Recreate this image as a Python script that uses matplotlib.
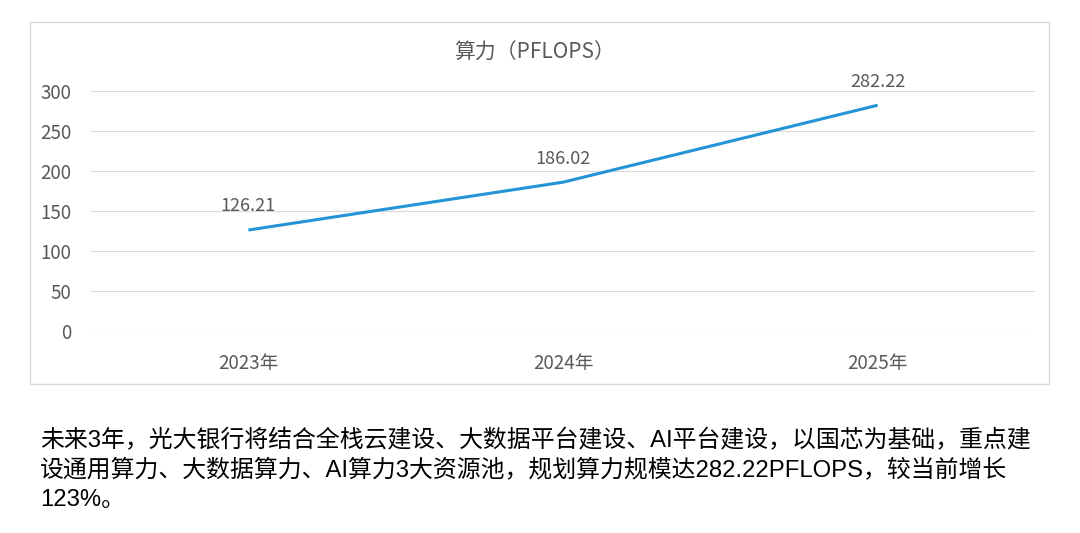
import matplotlib
matplotlib.use('Agg')
import matplotlib.pyplot as plt
from matplotlib.patches import Rectangle

plt.rcParams['font.family'] = ['Noto Sans CJK SC', 'DejaVu Sans']

# data
years = ['2023年', '2024年', '2025年']
power = [126.21, 186.02, 282.22]
yticks = [0, 50, 100, 150, 200, 250, 300]
title = '算力（PFLOPS）'
note_lines = [
    '未来3年，光大银行将结合全栈云建设、大数据平台建设、AI平台建设，以国芯为基础，重点建',
    '设通用算力、大数据算力、AI算力3大资源池，规划算力规模达282.22PFLOPS，较当前增长',
    '123%。',
]

grey = '#595959'
grid = '#d9d9d9'
blue = '#2394d6'

fig = plt.figure(figsize=(10.8, 5.33), dpi=100)

# frame round the chart
fig.patches.append(Rectangle((30 / 1080, 1 - 384 / 533), 1019 / 1080, 362 / 533,
                             transform=fig.transFigure, fill=False,
                             edgecolor=grid, linewidth=1))

ax = fig.add_axes([91 / 1080, 1 - 331 / 533, 944 / 1080, 240 / 533])
x = list(range(len(years)))
ax.plot(x, power, color=blue, linewidth=2.2, solid_capstyle='butt')
for xi, v in zip(x, power):
    ax.annotate(f'{v:.2f}', (xi, v), xytext=(0, 17), textcoords='offset points',
                ha='center', va='center', fontsize=13, color=grey)

ax.set_xlim(-0.5, 2.5)
ax.set_ylim(0, 300)
ax.set_yticks(yticks)
ax.set_xticks(x)
ax.set_xticklabels(years)
ax.yaxis.grid(True, color=grid, linewidth=0.8)
ax.set_axisbelow(True)
for s in ax.spines.values():
    s.set_visible(False)
ax.tick_params(length=0, labelsize=13.5, labelcolor=grey)
ax.tick_params(axis='y', pad=14)
ax.tick_params(axis='x', pad=16)

fig.text(535 / 1080, 1 - 53 / 533, title, ha='center', va='center',
         fontsize=15, color=grey)

ys = [441, 471, 500]
for line, yy in zip(note_lines, ys):
    fig.text(40 / 1080, 1 - yy / 533, line, ha='left', va='center',
             fontsize=17.2, color='black',
             family=['Liberation Sans', 'Noto Sans CJK SC'])

fig.savefig('out.png', dpi=100)
